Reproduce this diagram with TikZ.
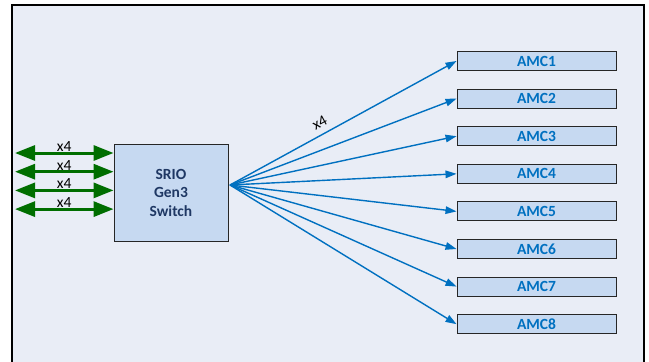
\documentclass[tikz,border=0pt]{standalone}
\usepackage{fontspec}
\setmainfont{Carlito}
\usetikzlibrary{arrows.meta}
\definecolor{framefill}{HTML}{E9EDF6}
\definecolor{boxfill}{HTML}{C6D9F1}
\definecolor{navytext}{HTML}{1F3864}
\definecolor{amcblue}{HTML}{0070C0}
\definecolor{busgreen}{HTML}{006E00}

\begin{document}
\begin{tikzpicture}[x=1pt,y=-1pt]
      \tikzset{boxes/.style={draw=black!85,fill=boxfill,line width=0.9pt,inner sep=0pt}}
      \tikzset{amcbox/.style={boxes,minimum width=159pt,minimum height=19pt,
               font=\fontsize{15.5}{18}\selectfont\bfseries,text=amcblue}}
      \tikzset{bus/.style={busgreen,line width=3pt,
               {Triangle[length=20pt,width=15pt]}-{Triangle[length=20pt,width=15pt]}}}
      \tikzset{fan/.style={amcblue,line width=1.4pt,-{Triangle[length=11pt,width=7.5pt]}}}
      \tikzset{lanes/.style={text=black,font=\fontsize{15.5}{18}\selectfont}}
      \def\amcstep{37.6}
      \def\busstep{18.7}
\useasboundingbox (0,0) rectangle (649,362);
\fill[framefill] (12,5) rectangle (644,370);
\draw[line width=1.1pt] (12,370) -- (12,5) -- (644,5) -- (644,370);

\node[boxes,minimum width=114pt,minimum height=97pt,align=center,
      font=\fontsize{15.5}{18.5}\selectfont\bfseries,text=navytext] (sw) at (171,192.5) {SRIO\\Gen3\\Switch};
\coordinate (hub) at (230,185);

\foreach \i in {1,...,8}
      \node[amcbox] (amc\i) at (536.5,{61+(\i-1)*\amcstep}) {AMC\i};

\foreach \i in {1,...,4}
{
      \coordinate (L\i) at (15,{153+(\i-1)*\busstep});
      \draw[bus] (L\i) -- (sw.west |- L\i) node[lanes,midway,above,inner sep=0pt] {x4};
}

\draw[fan] (hub) -- (amc1.west) node[lanes,pos=0.42,sloped,above,inner sep=6pt] {x4};
\foreach \i in {2,...,8}
      \draw[fan] (hub) -- (amc\i.west);

\end{tikzpicture}
\end{document}
